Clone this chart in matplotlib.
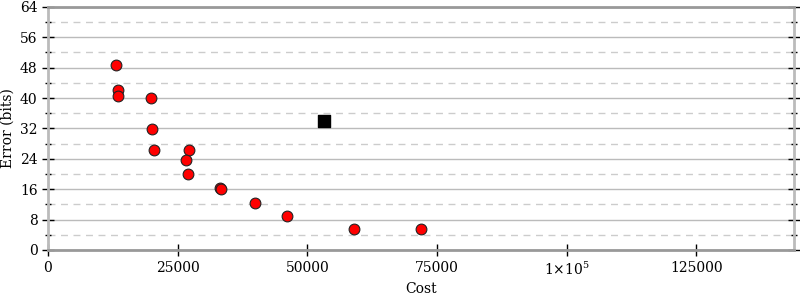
import numpy as np
import matplotlib
matplotlib.use('Agg')
import matplotlib.pyplot as plt
from matplotlib.ticker import MultipleLocator, FixedLocator, FixedFormatter

# data
cost = [13100, 13500, 13500, 19850, 20050, 20430, 27180, 26600, 27000,
        33150, 33350, 39900, 46070, 58980, 71900]
error = [48.7, 42.1, 40.6, 40.0, 31.9, 26.3, 26.3, 23.7, 20.0,
         16.3, 16.1, 12.4, 9.0, 5.5, 5.5]
best_cost = [53200]
best_error = [34.0]

xticks = [0, 25000, 50000, 75000, 100000, 125000]
xticklabels = ['0', '25000', '50000', '75000', r'1$\times$10$^5$', '125000']

plt.rcParams['font.family'] = 'DejaVu Serif'
plt.rcParams['mathtext.fontset'] = 'dejavuserif'

fig = plt.figure(figsize=(8, 3), dpi=100)
ax = fig.add_axes([0.06, 0.167, 0.9325, 0.81])

ax.scatter(cost, error, s=60, c='#ff0000', edgecolors='#222222',
           linewidths=0.8, zorder=3)
ax.scatter(best_cost, best_error, s=80, c='black', marker='s', zorder=3)

ax.set_xlim(0, 143800)
ax.set_ylim(0, 64)
ax.xaxis.set_major_locator(FixedLocator(xticks))
ax.xaxis.set_major_formatter(FixedFormatter(xticklabels))
ax.yaxis.set_major_locator(MultipleLocator(8))
ax.yaxis.set_minor_locator(MultipleLocator(4))

ax.grid(which='major', axis='y', color='#bbbbbb', linewidth=1, linestyle='-')
ax.grid(which='minor', axis='y', color='#cccccc', linewidth=1, linestyle=(0, (5, 4)))
ax.set_axisbelow(True)

ax.tick_params(axis='both', which='major', direction='inout', length=8,
               width=1, labelsize=10, colors='black', right=True)
ax.tick_params(axis='y', which='minor', direction='inout', length=4,
               width=1, right=True)
ax.tick_params(axis='x', which='major', length=9)

ax.spines['left'].set_color('#bbbbbb')
ax.spines['left'].set_linewidth(2)
ax.spines['right'].set_color('#bbbbbb')
ax.spines['right'].set_linewidth(2)
ax.spines['bottom'].set_color('#999999')
ax.spines['bottom'].set_linewidth(2)
ax.spines['top'].set_color('#999999')
ax.spines['top'].set_linewidth(2)

ax.set_xlabel('Cost', fontsize=10, labelpad=3)
ax.set_ylabel('Error (bits)', fontsize=10, labelpad=4)

fig.savefig('out.png', dpi=100)
